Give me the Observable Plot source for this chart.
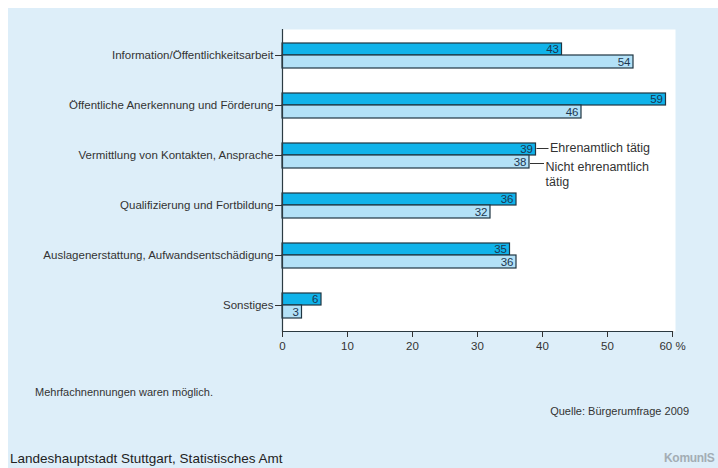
<!DOCTYPE html>
<html lang="de">
<head>
<meta charset="utf-8">
<script src="https://cdn.jsdelivr.net/npm/d3@7"></script>
<script src="https://cdn.jsdelivr.net/npm/@observablehq/plot@0.6"></script>
<style>
  html, body { margin: 0; padding: 0; background: #ffffff; width: 718px; height: 468px; overflow: hidden; }
  #panel { position: absolute; left: 8px; top: 8px; width: 710px; height: 460px; background: #ddeef9; }
  #chart { position: absolute; left: 0; top: 0; }
  .note { position: absolute; font-family: "Liberation Sans", Arial, sans-serif; color: #333; white-space: nowrap; }
  #note { left: 35px; top: 386px; font-size: 11px; }
  #source { right: 29px; top: 405px; font-size: 11px; }
  #org { left: 10px; top: 451px; font-size: 13.5px; color: #222; }
  #logo { left: 664px; top: 451px; font-size: 12px; font-weight: bold; color: #a3adb4; letter-spacing: -0.3px; }
</style>
</head>
<body>
<div id="panel"></div>
<div id="chart"></div>
<div class="note" id="note">Mehrfachnennungen waren möglich.</div>
<div class="note" id="source">Quelle: Bürgerumfrage 2009</div>
<div class="note" id="org">Landeshauptstadt Stuttgart, Statistisches Amt</div>
<div class="note" id="logo">KomunIS</div>
<script>
// Unterstützungswünsche nach Engagement (Anteile in %)
const categories = [
  "Information/Öffentlichkeitsarbeit",
  "Öffentliche Anerkennung und Förderung",
  "Vermittlung von Kontakten, Ansprache",
  "Qualifizierung und Fortbildung",
  "Auslagenerstattung, Aufwandsentschädigung",
  "Sonstiges"
];
const ehrenamtlich = [43, 59, 39, 36, 35, 6];
const nichtEhrenamtlich = [54, 46, 38, 32, 36, 3];
const seriesLabels = ["Ehrenamtlich tätig", "Nicht ehrenamtlich\ntätig"];
const xTicks = [0, 10, 20, 30, 40, 50, 60];
const labelledCategory = categories[2];

const colors = { upper: "#10b3ea", lower: "#b3e1f7", outline: "#1f3542", ink: "#1d3650" };

const upperRows = categories.map((c, i) => ({ category: c, value: ehrenamtlich[i] }));
const lowerRows = categories.map((c, i) => ({ category: c, value: nichtEhrenamtlich[i] }));
const upperKey = upperRows.filter(d => d.category === labelledCategory);
const lowerKey = lowerRows.filter(d => d.category === labelledCategory);

const font = "Liberation Sans, Arial, sans-serif";

const chart = Plot.plot({
  width: 718,
  height: 360,
  marginLeft: 282,
  marginRight: 46,
  marginTop: 29,
  marginBottom: 29,
  style: { background: "transparent", fontFamily: font, fontSize: "11.5px", color: "#333" },
  x: { domain: [0, 60], ticks: xTicks },
  y: { domain: categories, padding: 0.04 },
  marks: [
    Plot.frame({ fill: "white", stroke: null, insetRight: -3 }),
    Plot.barX(upperRows, { x: "value", y: "category", fill: colors.upper, stroke: colors.outline, strokeWidth: 1.2, insetTop: 12, insetBottom: 24 }),
    Plot.barX(lowerRows, { x: "value", y: "category", fill: colors.lower, stroke: colors.outline, strokeWidth: 1.2, insetTop: 24, insetBottom: 11 }),
    Plot.text(upperRows, { x: "value", y: "category", text: d => String(d.value), textAnchor: "end", dx: -3, dy: -6, fill: colors.ink, fontSize: 11.5 }),
    Plot.text(lowerRows, { x: "value", y: "category", text: d => String(d.value), textAnchor: "end", dx: -3, dy: 6.5, fill: colors.ink, fontSize: 11.5 }),
    // Leader lines and series labels next to the third pair of bars
    Plot.ruleY(upperKey, { x1: "value", x2: "value", y: "category", dy: -7, insetLeft: 1, insetRight: -13, stroke: "#333", strokeWidth: 1 }),
    Plot.ruleY(lowerKey, { x1: "value", x2: "value", y: "category", dy: 8, insetLeft: 1, insetRight: -15, stroke: "#333", strokeWidth: 1 }),
    Plot.text(upperKey, { x: "value", y: "category", text: () => seriesLabels[0], textAnchor: "start", dx: 14, dy: -8, fill: "#333", fontSize: 12.5 }),
    Plot.text(lowerKey, { x: "value", y: "category", text: () => seriesLabels[1], textAnchor: "start", lineAnchor: "top", lineHeight: 1.2, dx: 16, dy: 5, fill: "#333", fontSize: 12.5 }),
    Plot.ruleX([0], { stroke: "#2b3a42", strokeWidth: 1.2 }),
    Plot.frame({ anchor: "bottom", stroke: "#2b3a42", strokeWidth: 1.2 }),
    Plot.axisY({ tickSize: 7, tickPadding: 2, label: null, fontSize: 11.5, stroke: "#333" }),
    Plot.axisX({ ticks: xTicks, tickSize: 6, tickPadding: 4, label: null, fontSize: 11.5, stroke: "#333",
      tickFormat: d => d === 60 ? "60 %" : String(d) })
  ]
});
document.getElementById("chart").appendChild(chart);
</script>
</body>
</html>
